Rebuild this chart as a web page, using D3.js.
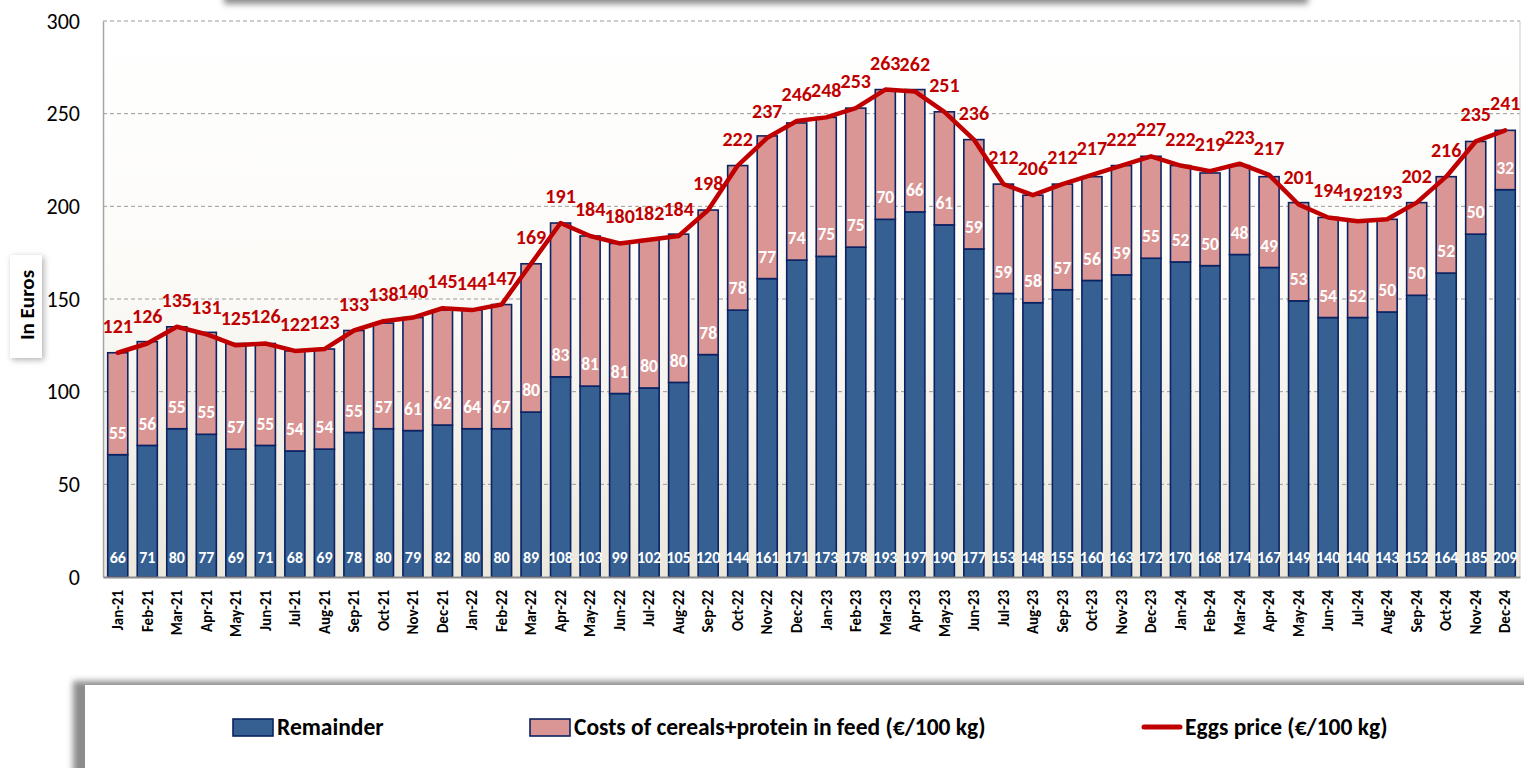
<!DOCTYPE html>
<html><head><meta charset="utf-8">
<script src="https://cdn.jsdelivr.net/npm/d3@7"></script>
<style>
html,body{margin:0;padding:0;background:#fff;}
svg{display:block;font-family:Carlito,Calibri,Lato,"Open Sans",sans-serif;}
</style></head>
<body>
<svg id="chart" width="1524" height="768"></svg>
<script>
const months = ["Jan-21","Feb-21","Mar-21","Apr-21","May-21","Jun-21","Jul-21","Aug-21","Sep-21","Oct-21","Nov-21","Dec-21",
"Jan-22","Feb-22","Mar-22","Apr-22","May-22","Jun-22","Jul-22","Aug-22","Sep-22","Oct-22","Nov-22","Dec-22",
"Jan-23","Feb-23","Mar-23","Apr-23","May-23","Jun-23","Jul-23","Aug-23","Sep-23","Oct-23","Nov-23","Dec-23",
"Jan-24","Feb-24","Mar-24","Apr-24","May-24","Jun-24","Jul-24","Aug-24","Sep-24","Oct-24","Nov-24","Dec-24"];
const remainder = [66,71,80,77,69,71,68,69,78,80,79,82,
80,80,89,108,103,99,102,105,120,144,161,171,
173,178,193,197,190,177,153,148,155,160,163,172,
170,168,174,167,149,140,140,143,152,164,185,209];
const feedCosts = [55,56,55,55,57,55,54,54,55,57,61,62,
64,67,80,83,81,81,80,80,78,78,77,74,
75,75,70,66,61,59,59,58,57,56,59,55,
52,50,48,49,53,54,52,50,50,52,50,32];
const eggsPrice = [121,126,135,131,125,126,122,123,133,138,140,145,
144,147,169,191,184,180,182,184,198,222,237,246,
248,253,263,262,251,236,212,206,212,217,222,227,
222,219,223,217,201,194,192,193,202,216,235,241];
const yTicks = [0,50,100,150,200,250,300];
const seriesNames = ["Remainder","Costs of cereals+protein in feed (€/100 kg)","Eggs price (€/100 kg)"];

const FONT = "Carlito,Calibri,Lato,sans-serif";
const svg = d3.select("#chart");
const defs = svg.append("defs");
const grad = defs.append("linearGradient").attr("id","bg").attr("x1",0).attr("y1",0).attr("x2",0).attr("y2",1);
grad.append("stop").attr("offset","0%").attr("stop-color","#ffffff");
grad.append("stop").attr("offset","45%").attr("stop-color","#fcfbf8");
grad.append("stop").attr("offset","100%").attr("stop-color","#ebe7db");
const blur = defs.append("filter").attr("id","blur").attr("x","-20%").attr("y","-50%").attr("width","140%").attr("height","200%");
blur.append("feGaussianBlur").attr("stdDeviation",3);

const L = 103, R = 1520, T = 21, B = 577;
const x = d3.scaleBand().domain(months).range([L, R]).paddingInner(0.32).paddingOuter(0.16);
const y = d3.scaleLinear().domain([0,300]).range([B, T]);

// top (cut-off) title box shadow
svg.append("rect").attr("x",224).attr("y",-30).attr("width",1084).attr("height",34).attr("fill","#8a8a8a").attr("filter","url(#blur)");
svg.append("rect").attr("x",222).attr("y",-30).attr("width",1086).attr("height",30).attr("fill","#ffffff");

// plot background
svg.append("rect").attr("x",L).attr("y",T).attr("width",R-L).attr("height",B-T).attr("fill","url(#bg)");

// gridlines
svg.append("g").selectAll("line").data(yTicks.filter(d=>d>0)).join("line")
  .attr("x1",L).attr("x2",R).attr("y1",d=>y(d)).attr("y2",d=>y(d))
  .attr("stroke","#9a9a9a").attr("stroke-width",1).attr("stroke-dasharray","4,3");
// right border
svg.append("line").attr("x1",R).attr("x2",R).attr("y1",T).attr("y2",B).attr("stroke","#c8c8c8").attr("stroke-width",1);

// y axis
const yAxis = d3.axisLeft(y).tickValues(yTicks).tickSize(0).tickPadding(23);
const yg = svg.append("g").attr("transform",`translate(${L},0)`).call(yAxis);
yg.select(".domain").attr("stroke","#a6a6a6").attr("stroke-width",1.5);
yg.selectAll("text").attr("font-size",22).attr("fill","#000").attr("font-family",FONT);

// stacked bars
const stackData = months.map((m,i)=>({m, r: remainder[i], c: feedCosts[i]}));
const bars = svg.append("g");
bars.selectAll("rect.rem").data(stackData).join("rect").attr("class","rem")
  .attr("x",d=>x(d.m)).attr("width",x.bandwidth())
  .attr("y",d=>y(d.r)).attr("height",d=>y(0)-y(d.r))
  .attr("fill","#366092").attr("stroke","#0b2263").attr("stroke-width",1.6);
bars.selectAll("rect.cost").data(stackData).join("rect").attr("class","cost")
  .attr("x",d=>x(d.m)).attr("width",x.bandwidth())
  .attr("y",d=>y(d.r+d.c)).attr("height",d=>y(d.r)-y(d.r+d.c))
  .attr("fill","#da9694").attr("stroke","#0b2263").attr("stroke-width",1.6);

// x axis
const xAxis = d3.axisBottom(x).tickSize(0).tickPadding(0);
const xg = svg.append("g").attr("transform",`translate(0,${B})`).call(xAxis);
xg.select(".domain").attr("stroke","#8c8c8c").attr("stroke-width",2);
xg.selectAll("text").attr("transform","rotate(-90)").attr("text-anchor","end")
  .attr("x",-13).attr("y",0).attr("dy","0.35em")
  .attr("font-size",15).attr("font-weight","bold").attr("fill","#000")
  .attr("font-family",FONT);

// value labels in bars
const lbl = svg.append("g").attr("font-weight","bold").attr("fill","#fff").attr("text-anchor","middle");
lbl.selectAll("text.rl").data(stackData).join("text").attr("class","rl")
  .attr("font-size",16)
  .attr("x",d=>x(d.m)+x.bandwidth()/2).attr("y",y(0)-20).attr("dy","0.35em").text(d=>d.r);
lbl.selectAll("text.cl").data(stackData).join("text").attr("class","cl")
  .attr("font-size",17.5)
  .attr("x",d=>x(d.m)+x.bandwidth()/2).attr("y",d=>y(d.r)-22).attr("dy","0.35em").text(d=>d.c);

// price line
const lineGen = d3.line().x((d,i)=>x(months[i])+x.bandwidth()/2).y(d=>y(d));
svg.append("path").datum(eggsPrice).attr("d",lineGen).attr("fill","none")
  .attr("stroke","#c00000").attr("stroke-width",4.5).attr("stroke-linejoin","round").attr("stroke-linecap","round");
svg.append("g").attr("font-weight","bold").attr("fill","#c00000").attr("text-anchor","middle").attr("font-size",20)
  .selectAll("text").data(eggsPrice).join("text")
  .attr("x",(d,i)=>x(months[i])+x.bandwidth()/2).attr("y",d=>y(d)-27).attr("dy","0.35em").text(d=>d);

// y title box
svg.append("rect").attr("x",12).attr("y",257).attr("width",32).attr("height",103).attr("fill","#b0b0b0").attr("filter","url(#blur)");
svg.append("rect").attr("x",10).attr("y",255).attr("width",32).attr("height",103).attr("fill","#ffffff");
svg.append("text").attr("transform","translate(27,305) rotate(-90)").attr("text-anchor","middle").attr("dy","0.35em")
  .attr("font-size",21).attr("font-weight","bold").attr("fill","#000").text("In Euros");

// legend box
svg.append("rect").attr("x",73).attr("y",681).attr("width",1480).attr("height",120).attr("fill","#8c8c8c").attr("filter","url(#blur)");
svg.append("rect").attr("x",85).attr("y",685).attr("width",1470).attr("height",110).attr("fill","#ffffff");
const lg = svg.append("g").attr("font-size",23.5).attr("font-weight","bold").attr("fill","#000");
const legendX = [233, 530, 1142];
lg.append("rect").attr("x",legendX[0]).attr("y",719).attr("width",40).attr("height",17).attr("fill","#366092").attr("stroke","#0b2263").attr("stroke-width",1.6);
lg.append("text").attr("x",legendX[0]+44).attr("y",727).attr("dy","0.35em").text(seriesNames[0]);
lg.append("rect").attr("x",legendX[1]).attr("y",719).attr("width",40).attr("height",17).attr("fill","#da9694").attr("stroke","#0b2263").attr("stroke-width",1.6);
lg.append("text").attr("x",legendX[1]+44).attr("y",727).attr("dy","0.35em").text(seriesNames[1]);
lg.append("line").attr("x1",legendX[2]+2).attr("x2",legendX[2]+38).attr("y1",727).attr("y2",727).attr("stroke","#c00000").attr("stroke-width",5).attr("stroke-linecap","round");
lg.append("text").attr("x",legendX[2]+43).attr("y",727).attr("dy","0.35em").text(seriesNames[2]);
</script>
</body></html>
